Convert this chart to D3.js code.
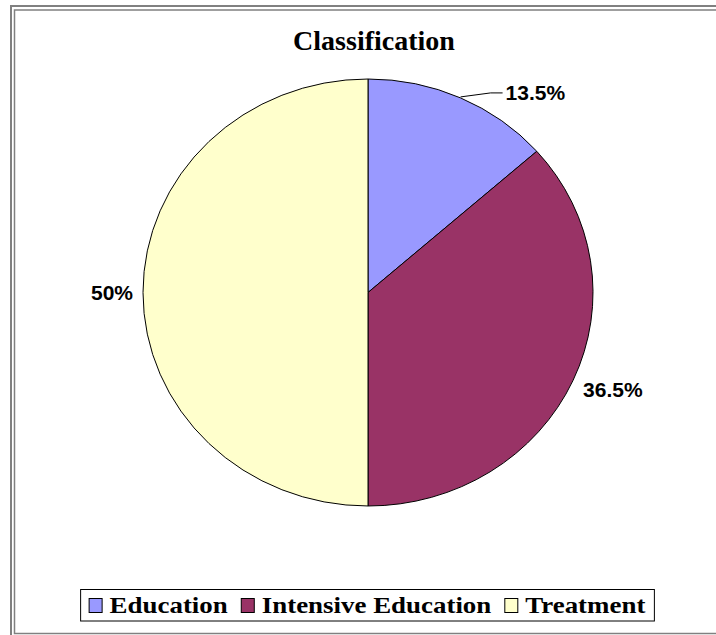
<!DOCTYPE html>
<head>
  <meta charset="utf-8">
  <script src="https://d3js.org/d3.v7.min.js"></script>
  <style>
    body { margin:0; background:#fff; }
    .slice { stroke: black; stroke-width: 1px; vector-effect: non-scaling-stroke; }
    .title { font-family: "Liberation Serif", "Times New Roman", serif; font-weight: bold; font-size: 28px; }
    .pct { font-family: "Liberation Sans", Arial, sans-serif; font-weight: bold; font-size: 21px; }
    .legend-text { font-family: "Liberation Serif", "Times New Roman", serif; font-weight: bold; font-size: 23px; }
  </style>
</head>
<body>
  <script>
    var categories = ["Education", "Intensive Education", "Treatment"];
    var values = [13.5, 36.5, 50];
    var labels = ["13.5%", "36.5%", "50%"];
    var colours = ["#9999ff", "#993366", "#ffffcc"];

    var width = 716, height = 635;

    var svg = d3.select("body").append("svg")
      .attr("width", width)
      .attr("height", height);

    // double grey frame (right edge falls outside the picture)
    svg.append("rect")
      .attr("x", 11).attr("y", 6)
      .attr("width", 720).attr("height", 640)
      .attr("fill", "none").attr("stroke", "#808080").attr("stroke-width", 2);
    svg.append("rect")
      .attr("x", 14.5).attr("y", 10)
      .attr("width", 720).attr("height", 623.5)
      .attr("fill", "none").attr("stroke", "#808080").attr("stroke-width", 1.5);

    svg.append("text")
      .attr("class", "title")
      .attr("x", 374).attr("y", 50)
      .attr("text-anchor", "middle")
      .text("Classification");

    var cx = 368, cy = 292.5, rx = 225, ry = 213.5;
    var sy = ry / rx;

    var pie = d3.pie().sort(null).value(function(d) { return d; });
    var arc = d3.arc().innerRadius(0).outerRadius(rx);
    var arcs = pie(values);

    var pieG = svg.append("g")
      .attr("transform", "translate(" + cx + "," + cy + ") scale(1," + sy + ")");

    pieG.selectAll("path")
      .data(arcs)
      .enter().append("path")
      .attr("class", "slice")
      .attr("d", arc)
      .attr("fill", function(d, i) { return colours[i]; });

    // labels outside the ellipse
    arcs.forEach(function(d, i) {
      var a = (d.startAngle + d.endAngle) / 2;
      var px = cx + rx * Math.sin(a), py = cy - ry * Math.cos(a);
      if (d.endAngle - d.startAngle < 1) {
        // small slice: leader line to the label
        svg.append("path")
          .attr("d", "M" + px + "," + (py - 1) + "L" + (px + 30) + "," + (py - 5) + "L" + (px + 42) + "," + (py - 5))
          .attr("fill", "none").attr("stroke", "black").attr("stroke-width", 1);
        svg.append("text")
          .attr("class", "pct")
          .attr("x", px + 45).attr("y", py + 2)
          .text(labels[i]);
      } else {
        var right = Math.sin(a) > 0;
        svg.append("text")
          .attr("class", "pct")
          .attr("x", px + (right ? 10 : -10))
          .attr("y", py + (right ? 17 : 7))
          .attr("text-anchor", right ? "start" : "end")
          .text(labels[i]);
      }
    });

    // legend
    var stretch = 1.17;
    var legend = svg.append("g");
    var items = legend.selectAll("g")
      .data(categories)
      .enter().append("g");
    var texts = items.append("text")
      .attr("class", "legend-text")
      .attr("y", 613)
      .text(function(d) { return d; });
    var widths = [];
    texts.each(function() { widths.push(this.getComputedTextLength() * stretch); });
    texts.attr("textLength", function(d, i) { return widths[i]; })
      .attr("lengthAdjust", "spacingAndGlyphs");

    var sw = 14, gapSw = 7, gapItem = 13, pad = 8;
    var total = 0;
    widths.forEach(function(w, i) { total += sw + gapSw + w + (i < widths.length - 1 ? gapItem : 0); });
    var boxW = total + pad * 2 + 1;
    var boxX = 367.5 - boxW / 2;

    legend.insert("rect", ":first-child")
      .attr("x", boxX).attr("y", 589.5)
      .attr("width", boxW).attr("height", 31.5)
      .attr("fill", "white").attr("stroke", "black").attr("stroke-width", 1);

    var xPos = boxX + pad;
    items.each(function(d, i) {
      var g = d3.select(this);
      g.insert("rect", "text")
        .attr("x", xPos + 0.5).attr("y", 598.5)
        .attr("width", sw - 1).attr("height", sw)
        .attr("fill", colours[i]).attr("stroke", "black").attr("stroke-width", 1);
      g.select("text").attr("x", xPos + sw + gapSw);
      xPos += sw + gapSw + widths[i] + gapItem;
    });
  </script>
</body>
